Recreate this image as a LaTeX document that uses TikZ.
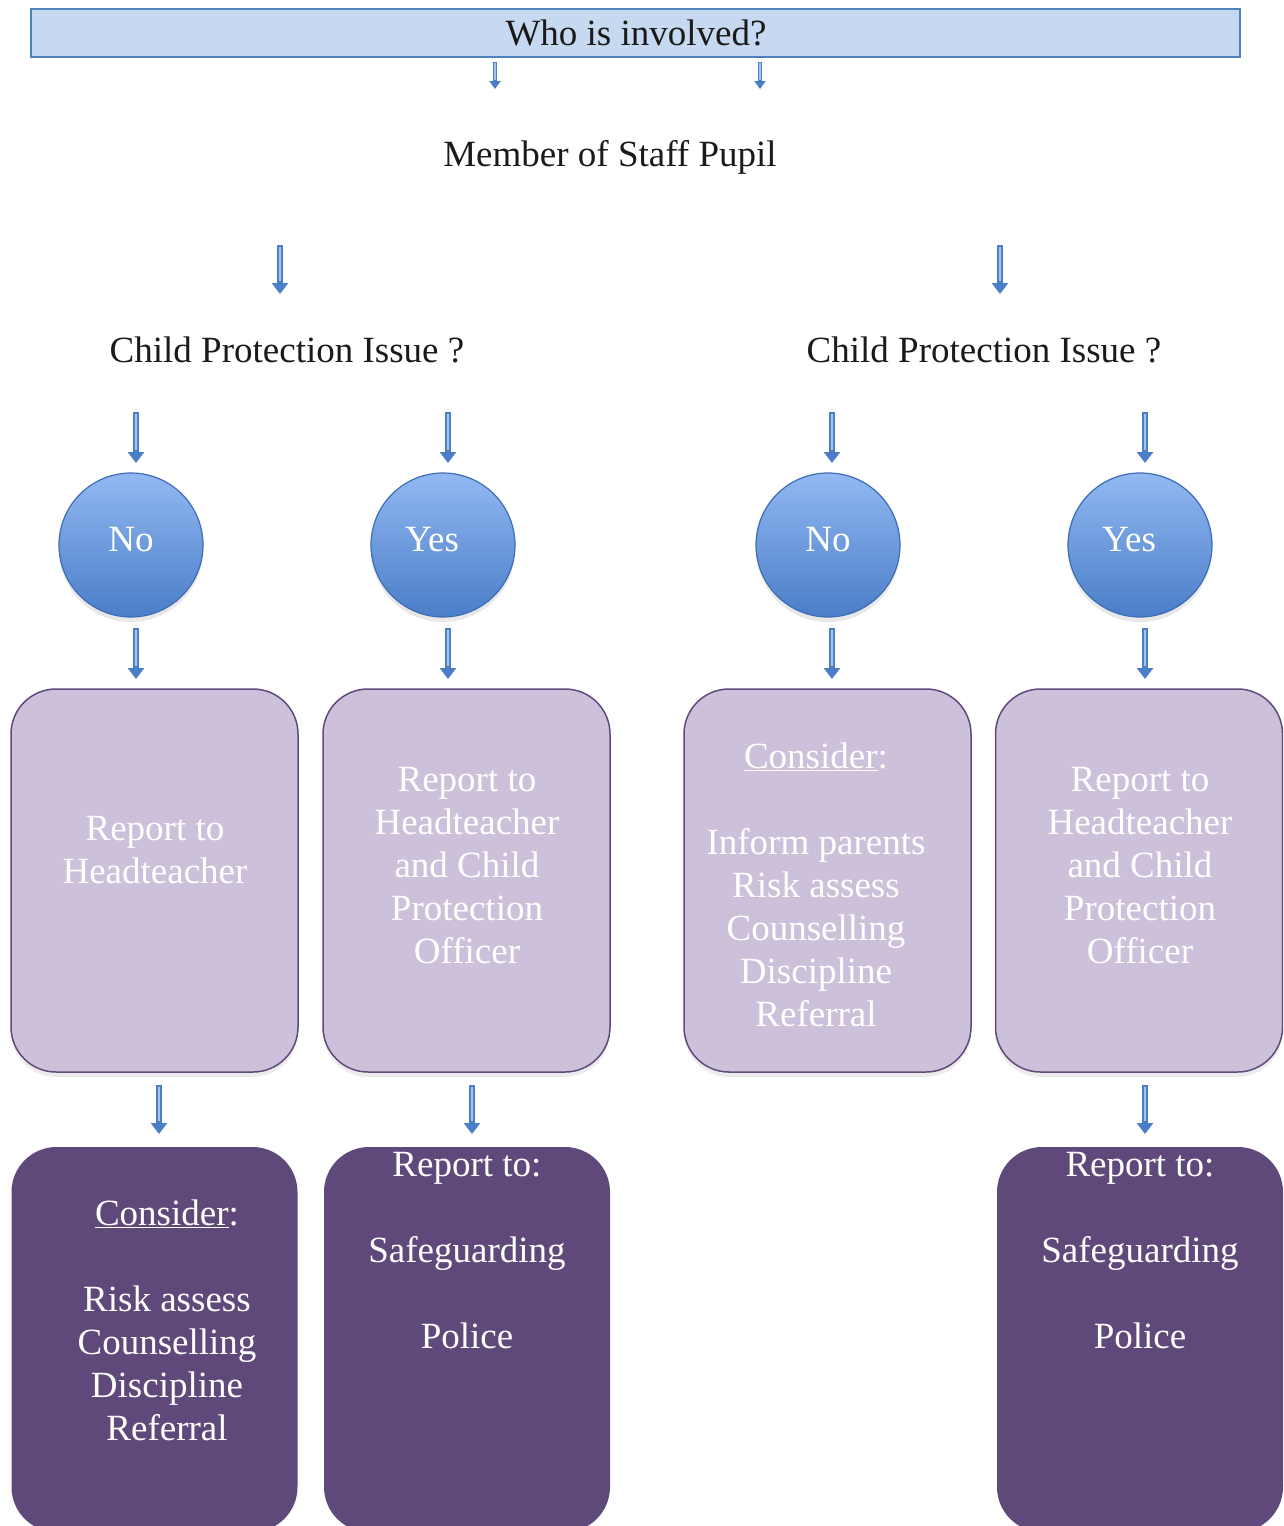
\documentclass[tikz,border=0pt]{standalone}
\usepackage{fontspec}
\setmainfont{Liberation Serif}
\usetikzlibrary{arrows.meta,shadows}
\definecolor{topfill}{HTML}{C6D9F1}
\definecolor{topdraw}{HTML}{4F81BD}
\definecolor{arrblue}{HTML}{4A7EC6}
\definecolor{arrshine}{HTML}{A9C5EC}
\definecolor{circtop}{HTML}{92B8F2}
\definecolor{circbot}{HTML}{4A7EC8}
\definecolor{circdraw}{HTML}{3D6DB5}
\definecolor{lightfill}{HTML}{CCC0DA}
\definecolor{lightdraw}{HTML}{604A7B}
\definecolor{darkfill}{HTML}{5F497A}
\definecolor{txt}{HTML}{1A1A1A}
\begin{document}
\begin{tikzpicture}[x=1pt,y=-1pt,
  every node/.style={font=\fontsize{37}{43}\selectfont, inner sep=0pt, outer sep=0pt},
  bigarrow/.style={line width=6pt, draw=arrblue, -{Triangle[width=16pt,length=11pt]}},
  bigshine/.style={line width=2pt, draw=arrshine, shorten >=13pt, shorten <=1.5pt},
  smallarrow/.style={line width=4.5pt, draw=arrblue, -{Triangle[width=11pt,length=8pt]}},
  smallshine/.style={line width=1.5pt, draw=arrshine, shorten >=9pt, shorten <=1.2pt},
  decision/.style={circle, minimum size=144pt, top color=circtop, bottom color=circbot,
     draw=circdraw, line width=1.2pt,
     drop shadow={opacity=0.18, shadow xshift=0pt, shadow yshift=-5pt}},
  circtext/.style={text=white},
  lightbox/.style={rectangle, rounded corners=45pt, minimum width=287pt, minimum height=383pt,
     fill=lightfill, draw=lightdraw, line width=1.5pt,
     drop shadow={opacity=0.15, shadow xshift=0pt, shadow yshift=-5pt}},
  darkbox/.style={rectangle, rounded corners=45pt, minimum width=286pt, minimum height=385pt,
     fill=darkfill},
  lighttext/.style={text=white, align=center},
  darktext/.style={text=white, align=center},
  plain/.style={text=txt}
]
\useasboundingbox (0,0) rectangle (1283,1526);
\clip (0,0) rectangle (1283,1526);

% top bar
\node[rectangle, fill=topfill, draw=topdraw, line width=1.5pt,
      minimum width=1209pt, minimum height=48pt] (top) at (635.5,33) {};
\node[plain] (toptext) at (636,33) {Who is involved?};

% second level text
\node[plain] (mos) at (610,157) {Member of Staff Pupil};

% child protection questions
\node[plain] (cpl) at (287,350) {Child Protection Issue ?};
\node[plain] (cpr) at (984,350) {Child Protection Issue ?};

% decisions
\node[decision] (nol) at (131,545) {};
\node[decision] (yesl) at (443,545) {};
\node[decision] (nor) at (828,545) {};
\node[decision] (yesr) at (1140,545) {};
\node[circtext] (nolt) at (131,540) {No};
\node[circtext] (yeslt) at (432,540) {Yes};
\node[circtext] (nort) at (828,540) {No};
\node[circtext] (yesrt) at (1129,540) {Yes};

% light boxes
\node[lightbox] (b1) at (154.5,880.5) {};
\node[lightbox] (b2) at (466.5,880.5) {};
\node[lightbox] (b3) at (827.5,880.5) {};
\node[lightbox] (b4) at (1139,880.5) {};

\node[lighttext] (t1) at (155,850) {Report to\\Headteacher};
\node[lighttext] (t2) at (467,866) {Report to\\Headteacher\\and Child\\Protection\\Officer};
\node[lighttext] (t3) at (816,885) {\underline{Consider}:\\[43pt]Inform parents\\Risk assess\\Counselling\\Discipline\\Referral};
\node[lighttext] (t4) at (1140,866) {Report to\\Headteacher\\and Child\\Protection\\Officer};

% dark boxes
\node[darkbox] (d1) at (154.5,1339.5) {};
\node[darkbox] (d2) at (467,1339.5) {};
\node[darkbox] (d3) at (1140,1339.5) {};

\node[darktext] (t5) at (167,1320) {\underline{Consider}:\\[43pt]Risk assess\\Counselling\\Discipline\\Referral};
\node[darktext] (t6) at (467,1251) {Report to:\\[43pt]Safeguarding\\[43pt]Police};
\node[darktext] (t7) at (1140,1251) {Report to:\\[43pt]Safeguarding\\[43pt]Police};

% arrow end points
\coordinate (s1a) at (495,62);  \coordinate (s1b) at (495,89);
\coordinate (s2a) at (760,62);  \coordinate (s2b) at (760,89);
\coordinate (m1a) at (280,245); \coordinate (m1b) at (280,294);
\coordinate (m2a) at (1000,245); \coordinate (m2b) at (1000,294);
\coordinate (c1a) at (136,412); \coordinate (c1b) at (136,463);
\coordinate (c2a) at (448,412); \coordinate (c2b) at (448,463);
\coordinate (c3a) at (832,412); \coordinate (c3b) at (832,463);
\coordinate (c4a) at (1145,412); \coordinate (c4b) at (1145,463);
\coordinate (e1a) at (136,628); \coordinate (e1b) at (136,679);
\coordinate (e2a) at (448,628); \coordinate (e2b) at (448,679);
\coordinate (e3a) at (832,628); \coordinate (e3b) at (832,679);
\coordinate (e4a) at (1145,628); \coordinate (e4b) at (1145,679);
\coordinate (f1a) at (159,1085); \coordinate (f1b) at (159,1134);
\coordinate (f2a) at (472,1085); \coordinate (f2b) at (472,1134);
\coordinate (f3a) at (1145,1085); \coordinate (f3b) at (1145,1134);

\foreach \p in {s1,s2} {
  \draw[smallarrow] (\p a) -- (\p b);
  \draw[smallshine] (\p a) -- (\p b);
}
\foreach \p in {m1,m2,c1,c2,c3,c4,e1,e2,e3,e4,f1,f2,f3} {
  \draw[bigarrow] (\p a) -- (\p b);
  \draw[bigshine] (\p a) -- (\p b);
}
\end{tikzpicture}
\end{document}
